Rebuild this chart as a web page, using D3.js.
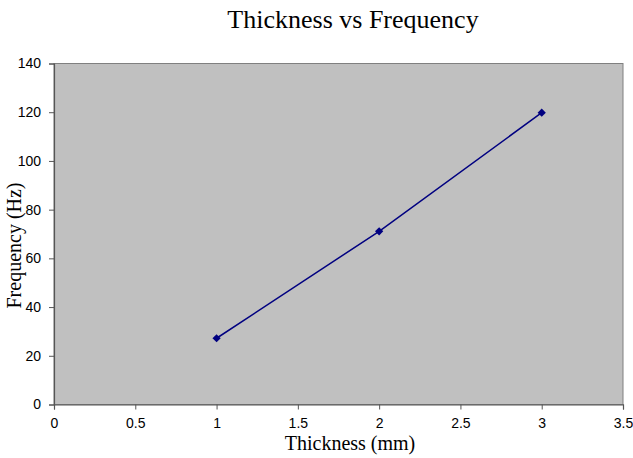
<!DOCTYPE html>
<html lang="en">
<head>
<meta charset="UTF-8">
<script src="https://d3js.org/d3.v7.min.js"></script>
<title>Thickness vs Frequency</title>
<style>
  body { margin: 0; background: #fff; }
</style>
</head>
<body>
<script>
    // data
    var thickness = [1, 2, 3];
    var frequency = [27.2, 71.1, 119.8];
    var xTicks = [0, 0.5, 1, 1.5, 2, 2.5, 3, 3.5];
    var yTicks = [0, 20, 40, 60, 80, 100, 120, 140];

    var width = 633, height = 458;
    var plotL = 54, plotR = 623, plotT = 63.5, plotB = 404.5;

    var svg = d3.select("body").append("svg")
            .attr("width", width)
            .attr("height", height);

    var x = d3.scaleLinear().domain([0, 3.5]).range([plotL, plotR]);
    var y = d3.scaleLinear().domain([0, 140]).range([plotB, plotT]);

    // plot area
    svg.append("rect")
            .attr("x", plotL)
            .attr("y", plotT)
            .attr("width", plotR - plotL)
            .attr("height", plotB - plotT)
            .attr("fill", "#c0c0c0")
            .attr("stroke", "#808080")
            .attr("stroke-width", 1);

    var xAxis = d3.axisBottom(x).tickValues(xTicks).tickSize(5).tickPadding(9)
            .tickFormat(function (d) { return d; });
    var yAxis = d3.axisLeft(y).tickValues(yTicks).tickSize(5).tickPadding(8);

    var gx = svg.append("g")
            .attr("transform", "translate(0," + plotB + ")")
            .call(xAxis);
    var gy = svg.append("g")
            .attr("transform", "translate(" + plotL + ",0)")
            .call(yAxis);

    [gx, gy].forEach(function (g) {
        g.selectAll("path").attr("stroke", "#555").attr("stroke-width", 1.2);
        g.selectAll("line").attr("stroke", "#555");
        g.selectAll("text")
                .attr("font-family", "Liberation Sans, Arial, sans-serif")
                .attr("font-size", "14px")
                .attr("fill", "#000");
    });

    var pts = thickness.map(function (t, i) { return [t, frequency[i]]; });

    var line = d3.line()
            .x(function (d) { return x(d[0]); })
            .y(function (d) { return y(d[1]); });

    svg.append("path")
            .datum(pts)
            .attr("d", line)
            .attr("fill", "none")
            .attr("stroke", "#000080")
            .attr("stroke-width", 1.5);

    // square diamond marker
    svg.selectAll(".marker")
            .data(pts)
            .enter()
            .append("path")
            .attr("class", "marker")
            .attr("d", d3.symbol().type(d3.symbolSquare).size(34))
            .attr("transform", function (d) { return "translate(" + x(d[0]) + "," + y(d[1]) + ") rotate(45)"; })
            .attr("fill", "#000080");

    // titles
    svg.append("text")
            .text("Thickness vs Frequency")
            .attr("x", 353)
            .attr("y", 28)
            .attr("text-anchor", "middle")
            .attr("font-family", "Liberation Serif, Times New Roman, serif")
            .attr("font-size", "26px");

    svg.append("text")
            .text("Thickness (mm)")
            .attr("x", 350)
            .attr("y", 450)
            .attr("text-anchor", "middle")
            .attr("font-family", "Liberation Serif, Times New Roman, serif")
            .attr("font-size", "20px");

    svg.append("text")
            .text("Frequency (Hz)")
            .attr("transform", "translate(21,245.5) rotate(-90)")
            .attr("text-anchor", "middle")
            .attr("font-family", "Liberation Serif, Times New Roman, serif")
            .attr("font-size", "20px");
</script>
</body>
</html>
